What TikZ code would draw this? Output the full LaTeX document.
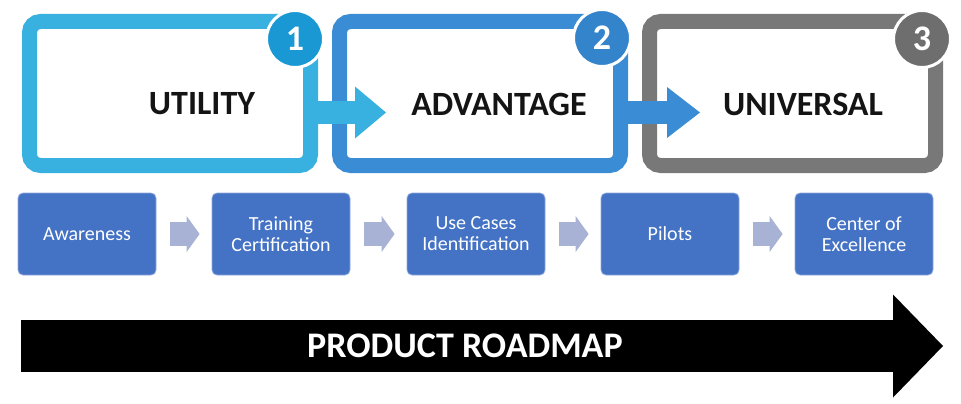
\documentclass[tikz,border=0pt]{standalone}
\usepackage{fontspec}
\setmainfont{Carlito}
\usetikzlibrary{arrows.meta}

\definecolor{utilblue}{RGB}{56,176,224}
\definecolor{utildark}{RGB}{26,152,212}
\definecolor{advblue}{RGB}{58,140,212}
\definecolor{advdark}{RGB}{52,132,204}
\definecolor{unigray}{RGB}{120,120,120}
\definecolor{unidark}{RGB}{110,110,110}
\definecolor{stepblue}{RGB}{68,114,196}
\definecolor{steparrow}{RGB}{168,178,212}

\begin{document}
\begin{tikzpicture}[x=1pt,y=-1pt,
  frame/.style={draw, line width=15pt, rounded corners=11pt, inner sep=0pt,
    minimum height=144pt},
  badge/.style={circle, draw=white, line width=3pt, minimum size=57pt,
    inner sep=0pt, text=white, font=\bfseries\fontsize{36}{36}\selectfont},
  stage/.style={font=\bfseries\fontsize{34}{40}\selectfont, text=black!92, inner sep=0pt},
  stepbox/.style={rectangle, rounded corners=5pt, fill=stepblue,
    draw=stepblue!60!white, line width=0.8pt, minimum width=138pt,
    minimum height=82pt, inner sep=2pt, text=white, align=center,
    font=\fontsize{20}{21}\selectfont},
  flow/.style={line width=23pt},
  stepflow/.style={steparrow, line width=24pt,
    -{Triangle[length=13pt, width=36pt, line width=0pt]}},
]
\useasboundingbox (0,0) rectangle (961,404);

% stage frames
\node[frame, draw=utilblue, minimum width=281pt] (f1) at (170,93.5) {};
\node[frame, draw=advblue,  minimum width=281pt] (f2) at (480,93.5) {};
\node[frame, draw=unigray,  minimum width=286pt] (f3) at (792.5,93.5) {};

% block arrows leading from one stage into the next
\draw[flow, utilblue, -{Triangle[length=31pt, width=52pt, line width=0pt]}]
  ([xshift=-8pt, yshift=-19pt]f1.east) -- ([xshift=54pt, yshift=-19pt]f2.west);
\draw[flow, advblue, -{Triangle[length=33pt, width=51pt, line width=0pt]}]
  ([xshift=-8pt, yshift=-19pt]f2.east) -- ([xshift=58pt, yshift=-19pt]f3.west);

% stage names
\node[stage] (t1) at (202,104) {UTILITY};
\node[stage] (t2) at (499,104) {ADVANTAGE};
\node[stage] (t3) at (803,104) {UNIVERSAL};

% numbered badges
\node[badge, fill=utildark] (b1) at (295,39) {1};
\node[badge, fill=advdark]  (b2) at (602,38) {2};
\node[badge, fill=unidark]  (b3) at (922,39) {3};

% process steps
\node[stepbox] (s1) at (87,234)  {Awareness};
\node[stepbox] (s2) at (281,234) {Training\\Certification};
\node[stepbox] (s3) at (476,234) {Use Cases\\Identification};
\node[stepbox] (s4) at (670,234) {Pilots};
\node[stepbox] (s5) at (864,234) {Center of\\Excellence};

\draw[stepflow] ([xshift=14pt]s1.east) -- ([xshift=-12pt]s2.west);
\draw[stepflow] ([xshift=14pt]s2.east) -- ([xshift=-12pt]s3.west);
\draw[stepflow] ([xshift=14pt]s3.east) -- ([xshift=-12pt]s4.west);
\draw[stepflow] ([xshift=14pt]s4.east) -- ([xshift=-12pt]s5.west);

% roadmap arrow
\coordinate (rstart) at (21,346);
\coordinate (rend) at (943,346);
\draw[black, line width=52pt, -{Triangle[length=50pt, width=103pt, line width=0pt]}]
  (rstart) -- (rend);
\node[text=white, font=\bfseries\fontsize{36}{40}\selectfont, inner sep=0pt]
  (road) at (465,346) {PRODUCT ROADMAP};
\end{tikzpicture}
\end{document}
